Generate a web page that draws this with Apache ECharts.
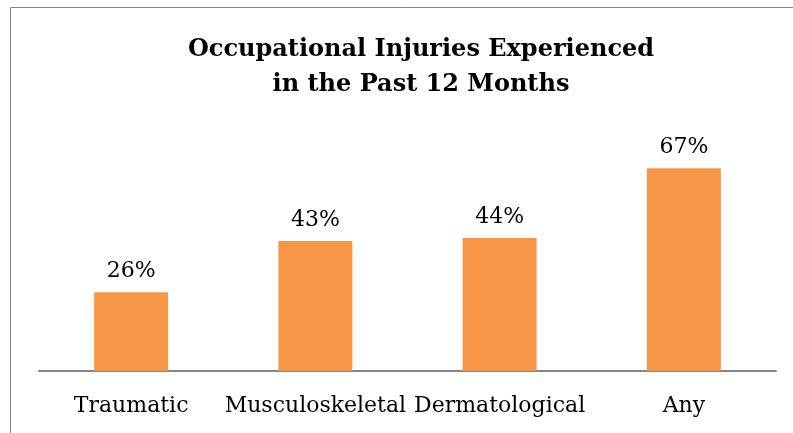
<!DOCTYPE html>
<html><head><meta charset="utf-8">
<script src="https://cdn.jsdelivr.net/npm/echarts@6/dist/echarts.min.js"></script>
<style>html,body{margin:0;padding:0;background:#fff}#c{width:793px;height:433px}</style>
</head><body><div id="c"></div>
<script>
const categories = ['Traumatic', 'Musculoskeletal', 'Dermatological', 'Any'];
const values = [26, 43, 44, 67];
const chart = echarts.init(document.getElementById('c'), null, {renderer: 'canvas'});
chart.setOption({
  animation: false,
  backgroundColor: '#fff',
  title: {
    text: 'Occupational Injuries Experienced\nin the Past 12 Months',
    left: 416, textAlign: 'center', top: 27,
    textStyle: {fontFamily: 'DejaVu Serif', fontWeight: 'bold', fontSize: 24, lineHeight: 35, color: '#000'}
  },
  graphic: [{type: 'rect', shape: {x: 10.5, y: 7.5, width: 800, height: 500}, style: {fill: 'none', stroke: '#868686', lineWidth: 1}, z: 100}],
  grid: {left: 39, right: 17, top: 129, bottom: 62, containLabel: false},
  xAxis: {
    type: 'category', data: categories,
    axisLine: {lineStyle: {color: '#868686', width: 2}},
    axisTick: {show: false},
    axisLabel: {fontFamily: 'DejaVu Serif', fontSize: 22, color: '#000', margin: 24, interval: 0}
  },
  yAxis: {type: 'value', min: 0, max: 80, show: false, splitLine: {show: false}},
  series: [{
    type: 'bar', data: values, barWidth: 74,
    itemStyle: {color: '#F79646'},
    label: {show: true, position: 'top', distance: 10, formatter: '{c}%', fontFamily: 'DejaVu Serif', fontSize: 22, color: '#000'}
  }]
});
</script></body></html>
